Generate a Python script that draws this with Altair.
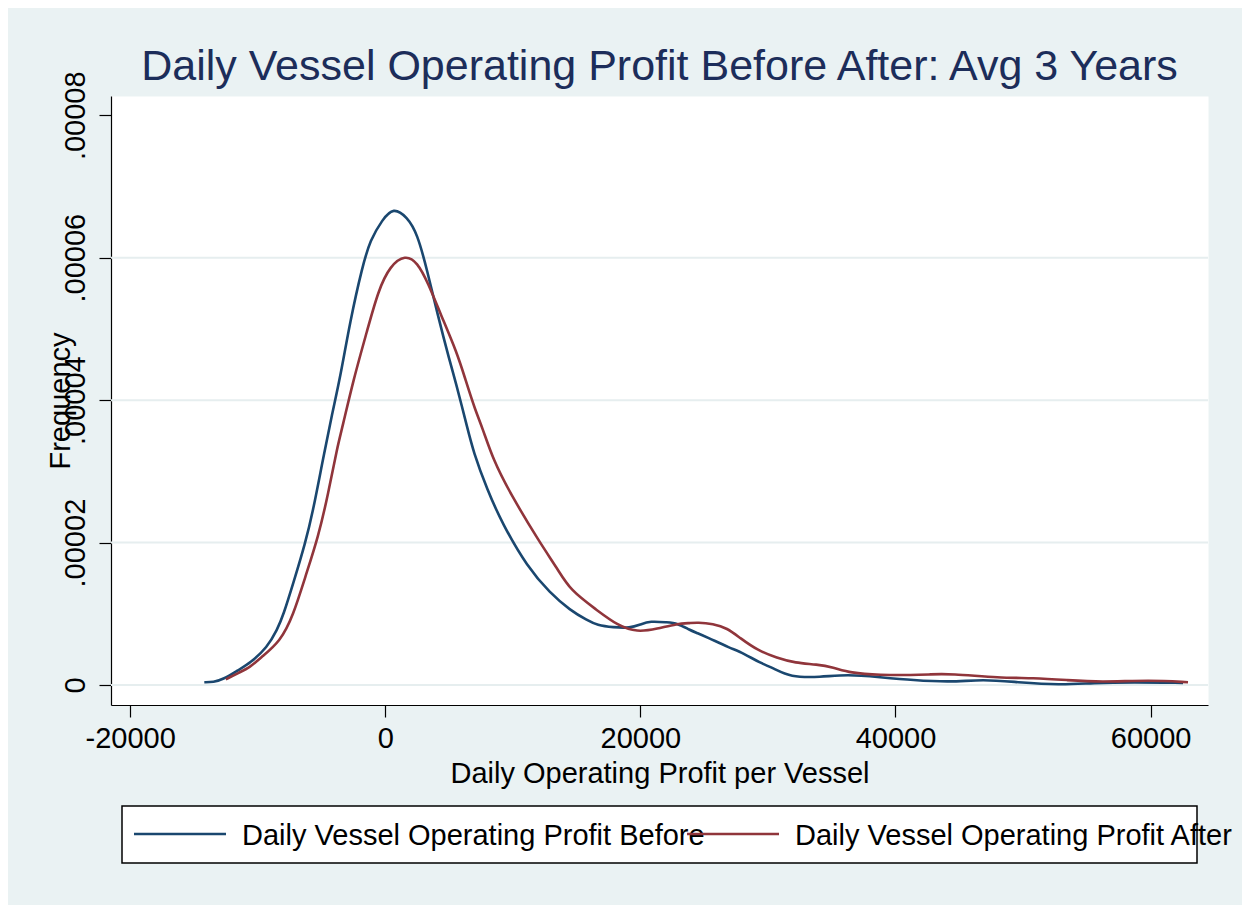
import altair as alt
import pandas as pd

# ---------------- data ----------------
series_names = ["Daily Vessel Operating Profit Before", "Daily Vessel Operating Profit After"]
series_colors = ["#1A476F", "#90353B"]

before_x = [-14185, -13480, -12696, -11520, -10580, -9248, -8464, -7994, -7210, -6270,
            -5643, -4937, -4154, -3527, -2743, -1803, -1176, -235, 627, 1724,
            2508, 3292, 4075, 5094, 5486, 6426, 6897, 7994, 9169, 11128,
            12931, 14498, 15830, 16615, 17869, 19201, 20000, 20768, 22100, 22884,
            23903, 24452, 25235, 27038, 28056, 29388, 30407, 31739, 34090, 36206,
            38793, 41379, 44279, 46866, 49531, 52901, 55487, 58622, 62541]
before_y = [0.0000004, 0.0000004, 0.0000008, 0.0000021, 0.0000031, 0.0000053, 0.0000078, 0.0000098, 0.0000143, 0.0000199,
            0.0000246, 0.0000312, 0.0000382, 0.0000432, 0.0000512, 0.0000587, 0.0000625, 0.0000653, 0.0000671, 0.0000657,
            0.0000634, 0.0000582, 0.0000522, 0.0000452, 0.0000428, 0.0000362, 0.0000328, 0.0000274, 0.0000227, 0.0000166,
            0.0000129, 0.0000105, 0.0000091, 0.0000084, 0.0000081, 0.0000080, 0.0000085, 0.0000090, 0.0000088, 0.0000087,
            0.0000077, 0.0000073, 0.0000067, 0.0000052, 0.0000045, 0.0000031, 0.0000024, 0.0000011, 0.0000011, 0.0000015,
            0.0000011, 0.0000007, 0.0000004, 0.0000008, 0.0000004, 0.0000000, 0.0000003, 0.0000004, 0.0000003]

after_x = [-12500, -11520, -10580, -9796, -8229, -7210, -6270, -5251, -4467, -3762,
           -3370, -2508, -1411, -549, 392, 1567, 2508, 3370, 4310, 5643,
           6300, 7053, 7602, 8464, 9796, 12147, 13480, 14498, 16615, 18182,
           19749, 21316, 22884, 23903, 24452, 25706, 26803, 27822, 29153, 30720,
           32131, 33855, 35109, 36442, 38793, 41379, 42711, 44279, 48199, 50786,
           53450, 56036, 59955, 62933]
after_y = [0.0000008, 0.0000017, 0.0000025, 0.0000038, 0.0000061, 0.0000098, 0.0000152, 0.0000208, 0.0000269, 0.0000334,
           0.0000361, 0.0000428, 0.0000498, 0.0000554, 0.0000589, 0.0000604, 0.0000594, 0.0000564, 0.0000522, 0.0000466,
           0.0000428, 0.0000386, 0.0000362, 0.0000316, 0.0000269, 0.0000199, 0.0000164, 0.0000133, 0.0000105, 0.0000084,
           0.0000074, 0.0000079, 0.0000086, 0.0000087, 0.0000088, 0.0000086, 0.0000080, 0.0000066, 0.0000049, 0.0000038,
           0.0000031, 0.0000029, 0.0000025, 0.0000017, 0.0000014, 0.0000014, 0.0000015, 0.0000016, 0.0000010, 0.0000010,
           0.0000007, 0.0000004, 0.0000007, 0.0000004]

x_ticks = [-20000, 0, 20000, 40000, 60000]
y_ticks = [0, 0.00002, 0.00004, 0.00006, 0.00008]
grid_values = [0, 0.00002, 0.00004, 0.00006]

title_text = "Daily Vessel Operating Profit Before After: Avg 3 Years"
x_title = "Daily Operating Profit per Vessel"
y_title = "Frequency"

# ---------------- table ----------------
rows = []
for xv, yv in zip(before_x, before_y):
    rows.append({"profit": xv, "density": yv, "series": series_names[0]})
for xv, yv in zip(after_x, after_y):
    rows.append({"profit": xv, "density": yv, "series": series_names[1]})
df = pd.DataFrame(rows)

FONT = "Liberation Sans"
W, H = 1097, 609

xscale = alt.Scale(domain=[-21500, 64500], nice=False, zero=False)
yscale = alt.Scale(domain=[-0.0000028, 0.0000827], nice=False, zero=False)

y_axis = alt.Axis(values=y_ticks,
                  labelExpr="datum.value == 0 ? '0' : replace(format(datum.value, '.5f'), '0.', '.')",
                  labelAngle=270, labelAlign="center", labelBaseline="alphabetic",
                  labelPadding=15, labelFlush=False, labelOverlap=False,
                  grid=False, titleAngle=270, titleX=-42, titleY=H / 2,
                  titleBaseline="alphabetic", titleAlign="center")

grid = alt.Chart(pd.DataFrame({"density": grid_values})).mark_rule(
    color="#E6EEEF", strokeWidth=2
).encode(y=alt.Y("density:Q", scale=yscale, title=y_title, axis=y_axis))

# legend box (Stata-style legend frame; entries overlap as in the original)
legend_box = alt.Chart(alt.Data(values=[{}])).mark_rect(
    fill="white", stroke="black", strokeWidth=1.5
).encode(x=alt.value(11), x2=alt.value(1086), y=alt.value(710), y2=alt.value(767))

legend_layers = []
key_x = [23, 576]
for i, name in enumerate(series_names):
    legend_layers.append(
        alt.Chart(alt.Data(values=[{}])).mark_rule(color=series_colors[i], strokeWidth=2.6)
        .encode(x=alt.value(key_x[i]), x2=alt.value(key_x[i] + 92), y=alt.value(738))
    )
    legend_layers.append(
        alt.Chart(alt.Data(values=[{}])).mark_text(
            align="left", baseline="alphabetic", font=FONT, fontSize=29, color="black"
        ).encode(x=alt.value(key_x[i] + 108), y=alt.value(749), text=alt.value(name))
    )

lines = alt.Chart(df).mark_line(strokeWidth=2.6, interpolate="basis").encode(
    x=alt.X("profit:Q", scale=xscale, title=x_title,
            axis=alt.Axis(values=x_ticks, labelExpr="datum.value + ''",
                          labelBaseline="alphabetic", labelAlign="center",
                          labelPadding=30, labelFlush=False, labelOverlap=False,
                          grid=False, titleX=W / 2, titleY=77,
                          titleBaseline="alphabetic", titleAlign="center")),
    y=alt.Y("density:Q", scale=yscale, title=y_title, axis=y_axis),
    color=alt.Color("series:N",
                    scale=alt.Scale(domain=series_names, range=series_colors),
                    legend=None),
)

chart = alt.layer(grid, lines, legend_box, *legend_layers).properties(
    width=W,
    height=H,
    title=alt.TitleParams(text=title_text, fontSize=43, font=FONT, color="#1C2D5A",
                          fontWeight="normal", anchor="middle", frame="group",
                          offset=-52, baseline="alphabetic"),
    background="#EAF2F3",
    padding={"left": 103, "top": 88, "right": 34, "bottom": 200},
    autosize=alt.AutoSizeParams(type="none"),
).configure_view(
    fill="white", stroke="transparent"
).configure_axis(
    domainColor="black", domainWidth=1.2, tickColor="black", tickWidth=1.2,
    tickSize=12, labelFont=FONT, labelFontSize=29, labelColor="black",
    titleFont=FONT, titleFontSize=29, titleFontWeight="normal", titleColor="black"
)

chart.save("out.html", embed_options={"renderer": "svg", "actions": False})
